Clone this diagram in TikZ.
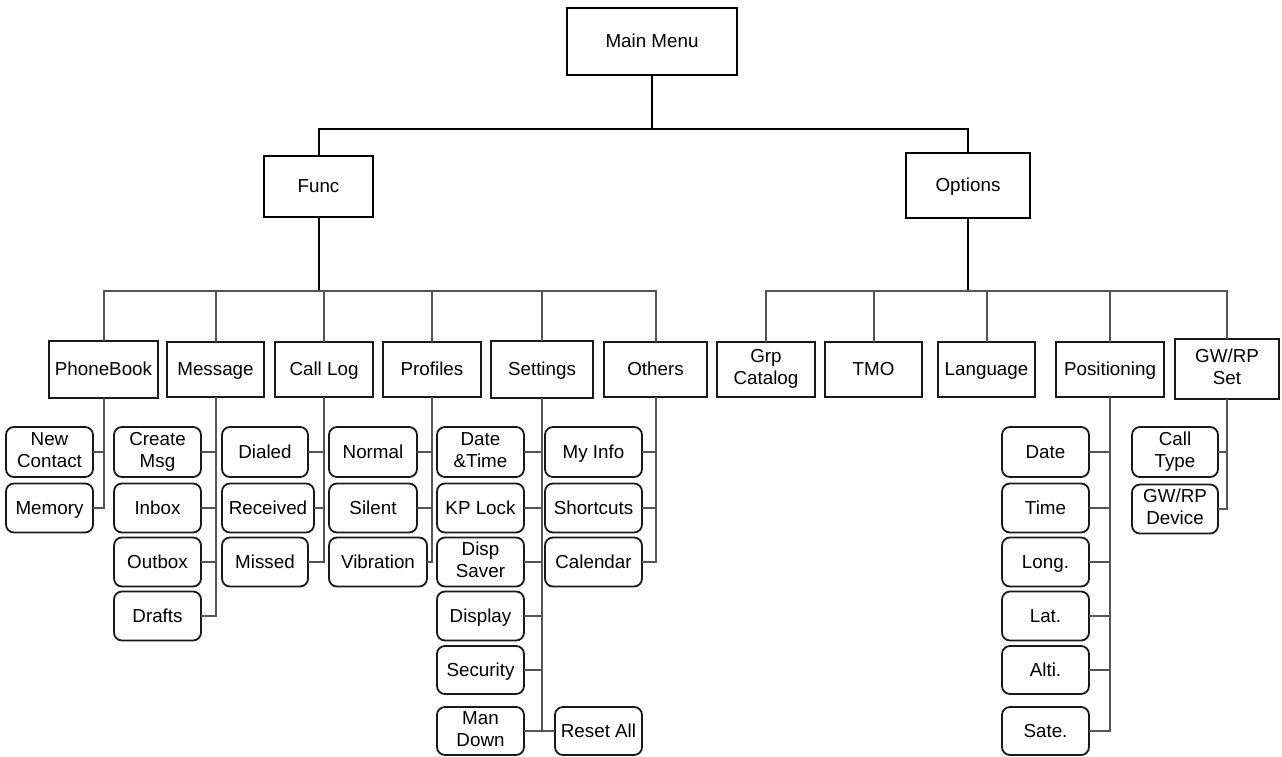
\documentclass[tikz,border=0pt]{standalone}
\usepackage{fontspec}
\setmainfont{Liberation Sans}
\newcommand\mystrut{\rule[-4.5pt]{0pt}{21pt}}
\begin{document}
\begin{tikzpicture}[x=1pt,y=-1pt,
  every node/.style={inner sep=0pt,outer sep=0pt,align=center,font=\fontsize{18.8}{22}\selectfont,
    execute at begin node=\mystrut, execute at end node=\mystrut},
  topbox/.style={draw=black,line width=1.6pt,fill=white},
  midbox/.style={draw=black!90,line width=1.8pt,fill=white},
  leaf/.style={draw=black!90,line width=1.8pt,rounded corners=8pt,fill=white},
  mainline/.style={draw=black,line width=2pt},
  gl/.style={draw=black!67,line width=2pt}]
\useasboundingbox (0,0) rectangle (1282,756);
% coordinates of bus lines
\coordinate (hb) at (652,129);
\coordinate (fb) at (318,291);
% top level
\node[topbox,minimum width=170pt,minimum height=67pt] (main) at (652,41.5) {Main Menu};
\node[topbox,minimum width=109pt,minimum height=61pt] (func) at (318.5,186.5) {Func};
\node[topbox,minimum width=124pt,minimum height=65pt] (opt) at (968,185.5) {Options};
% level 2
\node[midbox,minimum width=109pt,minimum height=57pt] (pb) at (103.5,369.5) {PhoneBook};
\node[midbox,minimum width=97pt,minimum height=55pt] (ms) at (215.5,369.5) {Message};
\node[midbox,minimum width=98pt,minimum height=55pt] (cl) at (324,369.5) {Call Log};
\node[midbox,minimum width=98pt,minimum height=55pt] (pr) at (432,369.5) {Profiles};
\node[midbox,minimum width=102pt,minimum height=57pt] (st) at (542,369.5) {Settings};
\node[midbox,minimum width=103pt,minimum height=55pt] (ot) at (655.5,369.5) {Others};
\node[midbox,minimum width=98pt,minimum height=55pt] (gc) at (766,369.5) {Grp\\Catalog};
\node[midbox,minimum width=97pt,minimum height=55pt] (tmo) at (873.5,369.5) {TMO};
\node[midbox,minimum width=97pt,minimum height=55pt] (lg) at (986.5,369.5) {Language};
\node[midbox,minimum width=108pt,minimum height=55pt] (ps) at (1110,369.5) {Positioning};
\node[midbox,minimum width=104pt,minimum height=60pt] (gw) at (1227,369) {GW/RP\\Set};
% leaves: PhoneBook
\node[leaf,minimum width=87pt,minimum height=50pt] (nc) at (49.5,452) {New\\Contact};
\node[leaf,minimum width=87pt,minimum height=49pt] (mem) at (49.5,508) {Memory};
% Message
\node[leaf,minimum width=87pt,minimum height=50pt] (cm) at (157.5,452) {Create\\Msg};
\node[leaf,minimum width=87pt,minimum height=49pt] (ib) at (157.5,508) {Inbox};
\node[leaf,minimum width=87pt,minimum height=49pt] (ob) at (157.5,562) {Outbox};
\node[leaf,minimum width=87pt,minimum height=49pt] (dr) at (157.5,616) {Drafts};
% Call Log
\node[leaf,minimum width=86pt,minimum height=50pt] (di) at (265,452) {Dialed};
\node[leaf,minimum width=92pt,minimum height=49pt] (re) at (268,508) {Received};
\node[leaf,minimum width=86pt,minimum height=49pt] (mi) at (265,562) {Missed};
% Profiles
\node[leaf,minimum width=88pt,minimum height=50pt] (no) at (373,452) {Normal};
\node[leaf,minimum width=88pt,minimum height=49pt] (si) at (373,508) {Silent};
\node[leaf,minimum width=98pt,minimum height=49pt] (vi) at (378,562) {Vibration};
% Settings
\node[leaf,minimum width=87pt,minimum height=50pt] (dt) at (480.5,452) {Date\\\&Time};
\node[leaf,minimum width=87pt,minimum height=49pt] (kp) at (480.5,508) {KP Lock};
\node[leaf,minimum width=87pt,minimum height=49pt] (ds) at (480.5,562) {Disp\\Saver};
\node[leaf,minimum width=87pt,minimum height=49pt] (dp) at (480.5,616) {Display};
\node[leaf,minimum width=87pt,minimum height=48pt] (se) at (480.5,670) {Security};
\node[leaf,minimum width=87pt,minimum height=48pt] (md) at (480.5,731) {Man\\Down};
\node[leaf,minimum width=87pt,minimum height=48pt] (ra) at (598.5,731) {Reset All};
% Others
\node[leaf,minimum width=97pt,minimum height=50pt] (mf) at (593.5,452) {My Info};
\node[leaf,minimum width=97pt,minimum height=49pt] (sc) at (593.5,508) {Shortcuts};
\node[leaf,minimum width=97pt,minimum height=49pt] (ca) at (593.5,562) {Calendar};
% Positioning
\node[leaf,minimum width=87pt,minimum height=50pt] (pda) at (1045.5,452) {Date};
\node[leaf,minimum width=87pt,minimum height=49pt] (pti) at (1045.5,508) {Time};
\node[leaf,minimum width=87pt,minimum height=49pt] (plo) at (1045.5,562) {Long.};
\node[leaf,minimum width=87pt,minimum height=49pt] (pla) at (1045.5,616) {Lat.};
\node[leaf,minimum width=87pt,minimum height=48pt] (pal) at (1045.5,670) {Alti.};
\node[leaf,minimum width=87pt,minimum height=48pt] (psa) at (1045.5,731) {Sate.};
% GW/RP Set
\node[leaf,minimum width=86pt,minimum height=50pt] (ct) at (1175,452) {Call\\Type};
\node[leaf,minimum width=86pt,minimum height=49pt] (gd) at (1175,509) {GW/RP\\Device};
% ---- connectors: top
\draw[mainline] (main.south) -- (main.south |- hb);
\draw[mainline] (func.north) |- (hb) -| (opt.north);
\draw[mainline] (func.south) -- (func.south |- fb);
\draw[mainline] (opt.south) -- (opt.south |- fb);
% func bus
\draw[gl] (pb.north) |- (ot.north |- fb) -- (ot.north);
\foreach \n in {ms,cl,pr,st} \draw[gl] (\n.north) -- (\n.north |- fb);
% options bus
\draw[gl] (gc.north) |- (gw.north |- fb) -- (gw.north);
\foreach \n in {tmo,lg,ps} \draw[gl] (\n.north) -- (\n.north |- fb);
% leaf connectors
\draw[gl] (pb.south) |- (mem.east);
\draw[gl] (nc.east) -- (nc.east -| pb.south);
\draw[gl] (ms.south) |- (dr.east);
\foreach \n in {cm,ib,ob} \draw[gl] (\n.east) -- (\n.east -| ms.south);
\draw[gl] (cl.south) |- (mi.east);
\foreach \n in {di,re} \draw[gl] (\n.east) -- (\n.east -| cl.south);
\draw[gl] (pr.south) |- (vi.east);
\foreach \n in {no,si} \draw[gl] (\n.east) -- (\n.east -| pr.south);
\draw[gl] (st.south) -- (st.south |- md.east);
\draw[gl] (md.east) -- (ra.west);
\foreach \n in {dt,kp,ds,dp,se} \draw[gl] (\n.east) -- (\n.east -| st.south);
\draw[gl] (ot.south) |- (ca.east);
\foreach \n in {mf,sc} \draw[gl] (\n.east) -- (\n.east -| ot.south);
\draw[gl] (ps.south) |- (psa.east);
\foreach \n in {pda,pti,plo,pla,pal} \draw[gl] (\n.east) -- (\n.east -| ps.south);
\draw[gl] (gw.south) |- (gd.east);
\draw[gl] (ct.east) -- (ct.east -| gw.south);
\end{tikzpicture}
\end{document}
